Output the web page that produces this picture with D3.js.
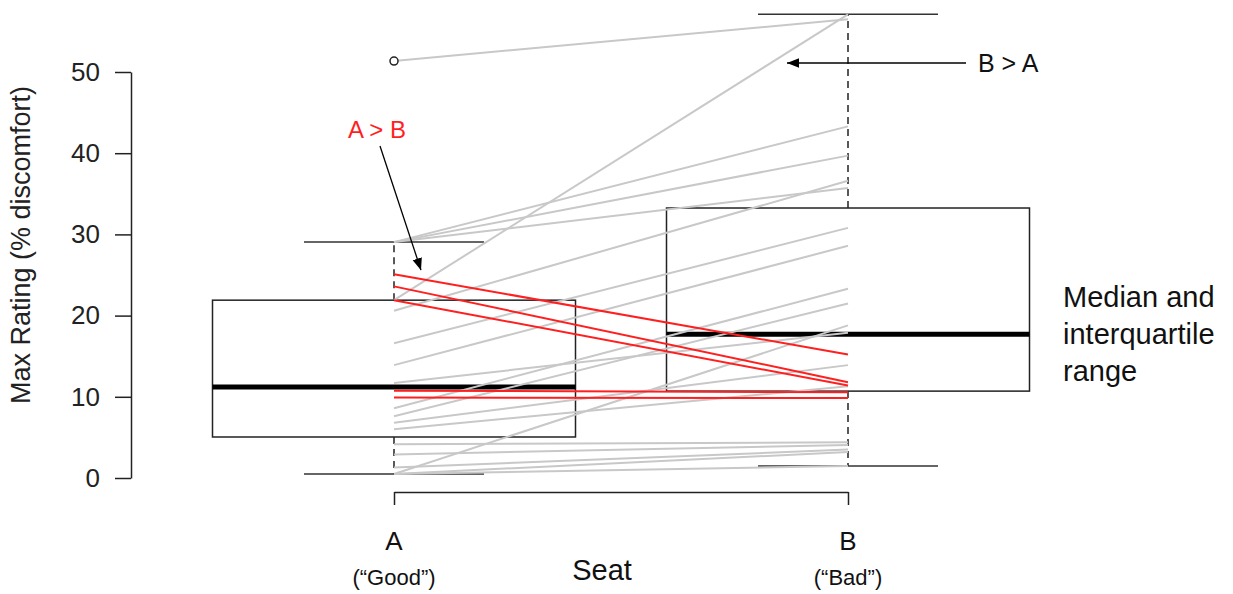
<!DOCTYPE html>
<html lang="en">
<head>
<meta charset="utf-8">
<title>Seat discomfort</title>
<script src="https://d3js.org/d3.v7.min.js"></script>
<style>
  body { margin: 0; background: #fff; }
  svg text { font-family: "Liberation Sans", Arial, sans-serif; }
</style>
</head>
<body>
<div id="chart"></div>
<script>
const width = 1233;
const height = 594;

// seats on the x axis
const seats = ["A", "B"];
const seatNotes = ["(\u201cGood\u201d)", "(\u201cBad\u201d)"];
const yTicks = [0, 10, 20, 30, 40, 50];

// paired ratings, one entry per subject (A seat, B seat)
const ratingA = [51.35, 29.05, 29.05, 29.05, 21.9, 20.6, 16.6, 13.9, 11.7, 8.6, 7.6, 6.8,
                 6.0, 4.15, 2.9, 1.3, 0.5, 0.5, 0.5, 25.1, 23.6, 21.9, 10.75, 9.9];
const ratingB = [56.5, 43.3, 39.7, 35.7, 57.1, 36.6, 30.8, 28.6, 17.9, 23.3, 21.5, 13.9,
                 11.3, 4.4, 4.06, 3.5, 3.2, 1.48, 18.8, 15.2, 11.8, 11.4, 10.55, 9.85];

// boxplot stats: lower whisker, Q1, median, Q3, upper whisker
const statsA = [0.5, 5.05, 11.2, 21.9, 29.05];
const statsB = [1.48, 10.7, 17.7, 33.25, 57.1];
const outliersA = [51.35];
const outliersB = [];

const svg = d3.select("#chart").append("svg")
  .attr("width", width)
  .attr("height", height);

const y = d3.scaleLinear().domain([0, 50]).range([478, 72]);
const x = d3.scalePoint().domain(seats).range([394, 848]);
const boxHalf = 181.5;
const capHalf = 90;

// y axis
const yAxis = svg.append("g")
  .attr("transform", "translate(131,0)")
  .call(d3.axisLeft(y).tickValues(yTicks).tickSize(16).tickSizeOuter(0).tickPadding(15));
yAxis.selectAll("path, line").attr("stroke", "#222").attr("stroke-width", 1.5);
yAxis.selectAll("text").attr("font-size", 26).attr("fill", "#222")
  .attr("font-family", "Liberation Sans, Arial, sans-serif");

svg.append("text")
  .attr("transform", "translate(30,245) rotate(-90)")
  .attr("text-anchor", "middle")
  .attr("font-size", 27)
  .attr("fill", "#222")
  .text("Max Rating (% discomfort)");

// x axis
const xAxis = svg.append("g")
  .attr("transform", "translate(0,492)")
  .call(d3.axisBottom(x).tickSize(13).tickSizeOuter(0).tickFormat(""));
xAxis.selectAll("path, line").attr("stroke", "#222").attr("stroke-width", 1.5);

svg.selectAll(".seat-label").data(seats).enter().append("text")
  .attr("class", "seat-label")
  .attr("x", d => x(d)).attr("y", 550)
  .attr("text-anchor", "middle").attr("font-size", 26).attr("fill", "#111")
  .text(d => d);
svg.selectAll(".seat-note").data(seatNotes).enter().append("text")
  .attr("class", "seat-note")
  .attr("x", (d, i) => x(seats[i])).attr("y", 585)
  .attr("text-anchor", "middle").attr("font-size", 22).attr("fill", "#111")
  .text(d => d);
svg.append("text")
  .attr("x", 602).attr("y", 580)
  .attr("text-anchor", "middle").attr("font-size", 29).attr("fill", "#111")
  .text("Seat");

// boxes
const boxes = [
  { seat: "A", s: statsA },
  { seat: "B", s: statsB }
];
const bg = svg.append("g");
boxes.forEach(b => {
  const cx = x(b.seat);
  const g = bg.append("g");
  // dashed whiskers
  g.append("line").attr("x1", cx).attr("x2", cx).attr("y1", y(b.s[3])).attr("y2", y(b.s[4]))
    .attr("stroke", "#222").attr("stroke-width", 1.5).attr("stroke-dasharray", "7,5");
  g.append("line").attr("x1", cx).attr("x2", cx).attr("y1", y(b.s[1])).attr("y2", y(b.s[0]))
    .attr("stroke", "#222").attr("stroke-width", 1.5).attr("stroke-dasharray", "7,5");
  // caps
  [b.s[0], b.s[4]].forEach(v => {
    g.append("line").attr("x1", cx - capHalf).attr("x2", cx + capHalf)
      .attr("y1", y(v)).attr("y2", y(v))
      .attr("stroke", "#333").attr("stroke-width", 1.5);
  });
  g.append("rect")
    .attr("x", cx - boxHalf).attr("width", boxHalf * 2)
    .attr("y", y(b.s[3])).attr("height", y(b.s[1]) - y(b.s[3]))
    .attr("fill", "none").attr("stroke", "#222").attr("stroke-width", 1.5);
  g.append("line").attr("x1", cx - boxHalf).attr("x2", cx + boxHalf)
    .attr("y1", y(b.s[2])).attr("y2", y(b.s[2]))
    .attr("stroke", "#000").attr("stroke-width", 5);
});

// paired lines
const pairs = ratingA.map((a, i) => ({ a: a, b: ratingB[i] }));
svg.append("g").selectAll("line")
  .data(pairs.filter(d => d.a <= d.b).concat(pairs.filter(d => d.a > d.b)))
  .enter().append("line")
  .attr("x1", x("A")).attr("y1", d => y(d.a))
  .attr("x2", x("B")).attr("y2", d => y(d.b))
  .attr("stroke", d => d.a > d.b ? "#ff1f1f" : "#c8c8c8")
  .attr("stroke-width", 2);

// outliers
svg.append("g").selectAll("circle")
  .data(outliersA.map(v => ({ seat: "A", v: v })).concat(outliersB.map(v => ({ seat: "B", v: v }))))
  .enter().append("circle")
  .attr("cx", d => x(d.seat)).attr("cy", d => y(d.v)).attr("r", 4)
  .attr("fill", "#fff").attr("stroke", "#222").attr("stroke-width", 1.5);

// annotations
svg.append("defs").append("marker")
  .attr("id", "arrow").attr("viewBox", "0 0 10 10")
  .attr("refX", 10).attr("refY", 5)
  .attr("markerWidth", 12).attr("markerHeight", 12)
  .attr("markerUnits", "userSpaceOnUse")
  .attr("orient", "auto")
  .append("path").attr("d", "M0,1 L10,5 L0,9 Z").attr("fill", "#000");

svg.append("text")
  .attr("x", 377).attr("y", 138)
  .attr("text-anchor", "middle").attr("font-size", 24).attr("fill", "#ff1f1f")
  .text("A > B");
svg.append("line")
  .attr("x1", 380).attr("y1", 146)
  .attr("x2", 421).attr("y2", y(25.6))
  .attr("stroke", "#000").attr("stroke-width", 1.3)
  .attr("marker-end", "url(#arrow)");

svg.append("text")
  .attr("x", 978).attr("y", 72)
  .attr("font-size", 25).attr("fill", "#111")
  .text("B > A");
svg.append("line")
  .attr("x1", 966).attr("y1", 63)
  .attr("x2", 787).attr("y2", 63)
  .attr("stroke", "#000").attr("stroke-width", 1.3)
  .attr("marker-end", "url(#arrow)");

const note = svg.append("text")
  .attr("x", 1063).attr("y", 307)
  .attr("font-size", 29).attr("fill", "#111");
["Median and", "interquartile", "range"].forEach((t, i) => {
  note.append("tspan").attr("x", 1063).attr("dy", i === 0 ? 0 : 37).text(t);
});
</script>
</body>
</html>
